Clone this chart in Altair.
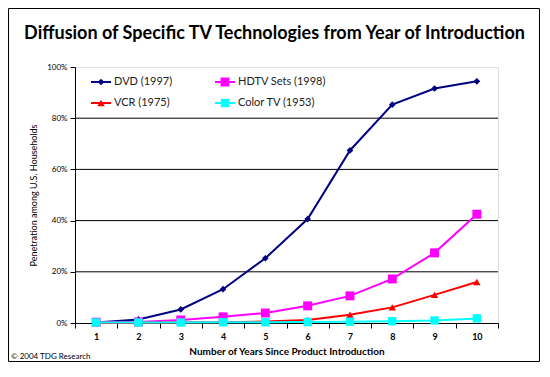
import altair as alt
import pandas as pd

years = list(range(1, 11))
series = ["DVD (1997)", "HDTV Sets (1998)", "VCR (1975)", "Color TV (1953)"]
dvd = [0.2, 1.4, 5.3, 13.2, 25.3, 40.6, 67.4, 85.3, 91.6, 94.4]
hdtv = [0.3, 0.4, 1.2, 2.4, 3.9, 6.7, 10.6, 17.2, 27.4, 42.5]
vcr = [0.0, 0.1, 0.2, 0.3, 0.6, 1.2, 3.2, 6.1, 11.0, 16.0]
color_tv = [0.2, 0.2, 0.2, 0.3, 0.3, 0.4, 0.5, 0.7, 1.0, 1.8]
grid_values = [0.2, 0.4, 0.6, 0.8]
title_text = "Diffusion of Specific TV Technologies from Year of Introduction"
footer_text = "\u00a9 2004 TDG Research"

values = [dvd, hdtv, vcr, color_tv]
colors = ["#000080", "#FF00FF", "#FF0000", "#00FFFF"]
shapes = ["diamond", "square", "triangle-up", "square"]
sizes = [45, 80, 55, 70]

W, H = 423, 256
FONT = "Lato"

xscale = alt.Scale(type="band", domain=years, paddingInner=0, paddingOuter=0)
yscale = alt.Scale(domain=[0, 1])

rows = []
for name, vals in zip(series, values):
    for yr, v in zip(years, vals):
        rows.append({"series": name, "year": yr, "value": v / 100})
df = pd.DataFrame(rows)

x_enc = alt.X(
    "year:O", scale=xscale,
    axis=alt.Axis(title="Number of Years Since Product Introduction", labelAngle=0,
                  tickBand="extent", domainColor="black", tickColor="black",
                  tickSize=5, labelFont=FONT, labelFontSize=9, labelFontWeight="bold",
                  labelPadding=4, titleFont=FONT, titleFontSize=10, titleFontWeight="bold",
                  titlePadding=5, labelColor="black", titleColor="black", grid=False),
)
y_enc = alt.Y(
    "value:Q", scale=yscale,
    axis=alt.Axis(title="Penetration among U.S. Households", format=".0%", values=[0, 0.2, 0.4, 0.6, 0.8, 1.0],
                  domainColor="black", tickColor="black", tickSize=5, grid=False,
                  labelFont=FONT, labelFontSize=8, labelColor="black", labelPadding=3,
                  titleFont=FONT, titleFontSize=9, titleFontWeight="normal", titleColor="black",
                  titleX=-42, titleY=H / 2, titleAngle=270, titleAlign="center", titleBaseline="middle"),
)

grid = alt.Chart(pd.DataFrame({"v": grid_values})).mark_rule(color="black", strokeWidth=1).encode(
    y=alt.Y("v:Q", scale=yscale)
)

layers = [grid]
for name, col, shp, sz in zip(series, colors, shapes, sizes):
    sub = df[df["series"] == name]
    base = alt.Chart(sub)
    layers.append(base.mark_line(color=col, strokeWidth=2).encode(x=x_enc, y=y_enc))
    layers.append(base.mark_point(color=col, filled=True, opacity=1, shape=shp, size=sz).encode(x=x_enc, y=y_enc))

# manual legend (2 columns, inside plot, top-left)
for i, (name, col, shp, sz) in enumerate(zip(series, colors, shapes, sizes)):
    cx = 16 + (i % 2) * 124
    cy = 15 + (i // 2) * 21
    one = alt.Chart(pd.DataFrame({"label": [name]}))
    layers.append(one.mark_rule(color=col, strokeWidth=2).encode(
        x=alt.value(cx), x2=alt.value(cx + 20), y=alt.value(cy)))
    layers.append(one.mark_point(color=col, filled=True, opacity=1, shape=shp, size=sz).encode(
        x=alt.value(cx + 10), y=alt.value(cy)))
    layers.append(one.mark_text(align="left", baseline="middle", font=FONT, fontSize=11, color="#222222").encode(
        x=alt.value(cx + 23), y=alt.value(cy), text="label:N"))

title = alt.Chart(pd.DataFrame({"t": [title_text]})).mark_text(
    align="center", baseline="middle", font=FONT, fontSize=18, fontWeight="bold", color="black").encode(
    x=alt.value(W / 2 - 12), y=alt.value(-33), text="t:N")
footer = alt.Chart(pd.DataFrame({"t": [footer_text]})).mark_text(
    align="left", baseline="middle", font=FONT, fontSize=8, color="black").encode(
    x=alt.value(-64), y=alt.value(H + 34), text="t:N")
border = alt.Chart(pd.DataFrame({"a": [0]})).mark_rect(filled=False, stroke="black", strokeWidth=1).encode(
    x=alt.value(-66.5), x2=alt.value(W + 41.5), y=alt.value(-58.5), y2=alt.value(H + 38.5))
layers += [title, footer, border]

chart = alt.layer(*layers).properties(
    width=W, height=H,
    autosize=alt.AutoSizeParams(type="none"),
    padding={"left": 67, "top": 59, "right": 42, "bottom": 39},
).configure_view(stroke="#808080", strokeWidth=1).configure(background="white")

chart.save("out.html", embed_options={"renderer": "svg", "actions": False})
